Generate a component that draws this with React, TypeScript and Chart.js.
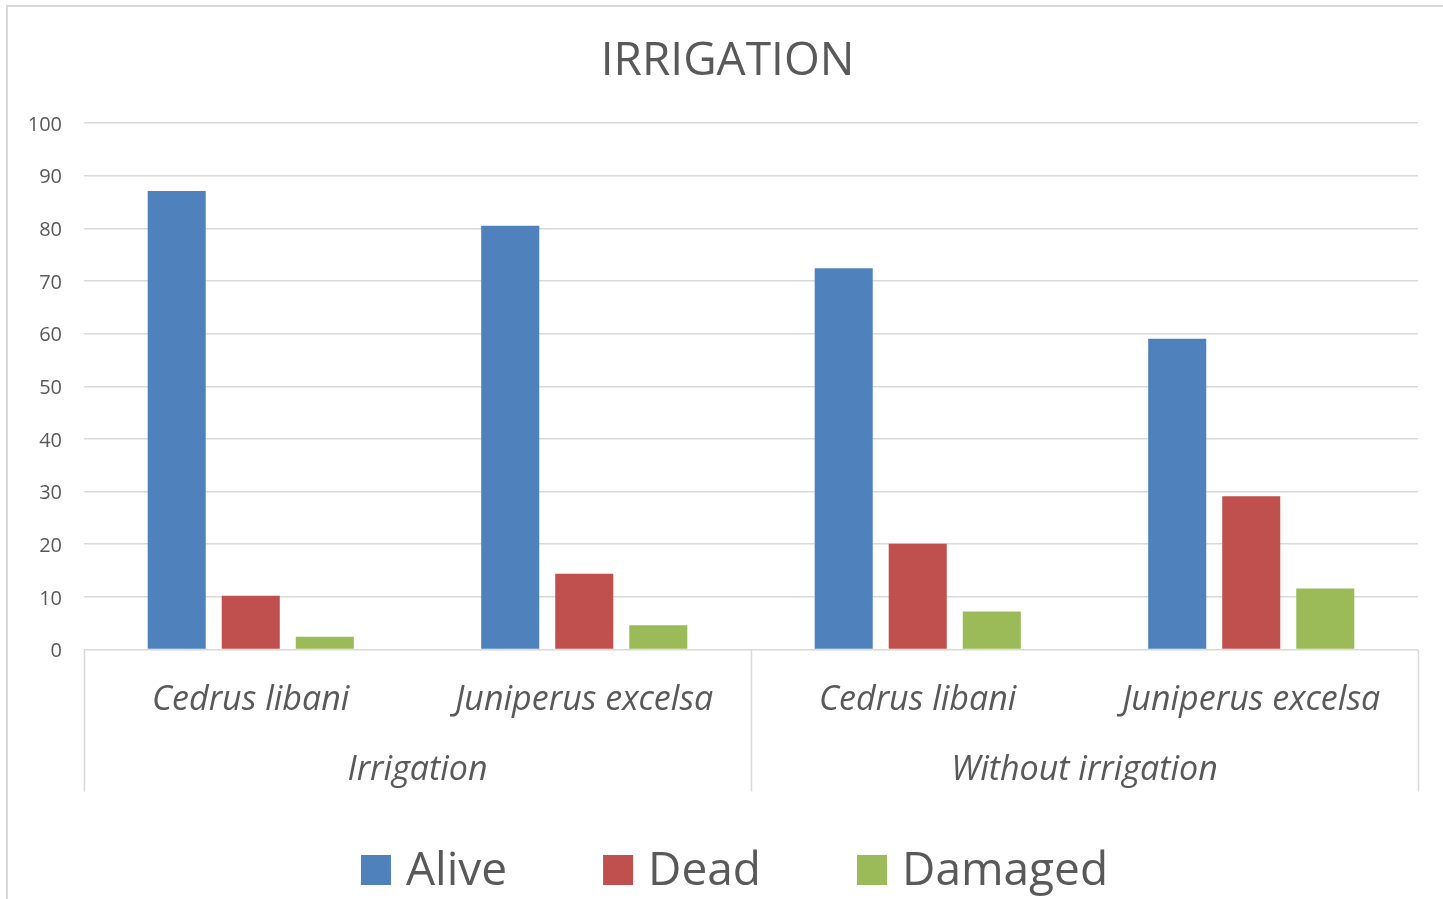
import React, { useEffect, useRef } from "react";
import { Chart, registerables } from "chart.js";

Chart.register(...registerables);

const titleText = "IRRIGATION";
const species = ["Cedrus libani", "Juniperus excelsa", "Cedrus libani", "Juniperus excelsa"];
const groups = ["Irrigation", "Without irrigation"];
const groupSize = 2;
const alive = [87.1, 80.5, 72.4, 59.0];
const dead = [10.2, 14.4, 20.1, 29.1];
const damaged = [2.4, 4.6, 7.2, 11.6];
const seriesNames = ["Alive", "Dead", "Damaged"];
const seriesColors = ["#4F81BD", "#C0504D", "#9BBB59"];
const yTicks = { min: 0, max: 100, step: 10 };

const TEXT = "#595959";
const GRID = "#D9D9D9";
const FONT = "'Open Sans', sans-serif";

const decorPlugin = {
  id: "decor",
  beforeDraw(chart: any) {
    const { ctx, width, height } = chart;
    ctx.save();
    ctx.fillStyle = "#ffffff";
    ctx.fillRect(0, 0, width, height);
    ctx.strokeStyle = GRID;
    ctx.lineWidth = 2;
    ctx.beginPath();
    ctx.moveTo(7, height);
    ctx.lineTo(7, 6);
    ctx.lineTo(width, 6);
    ctx.stroke();
    ctx.restore();
  },
  afterDraw(chart: any) {
    const { ctx, chartArea } = chart;
    const xs = chart.scales.x;
    const n = species.length;
    const catW = (chartArea.right - chartArea.left) / n;
    const yTop = chartArea.bottom;
    const yBot = chartArea.bottom + 142;
    ctx.save();
    // title
    ctx.fillStyle = TEXT;
    ctx.font = `46px ${FONT}`;
    ctx.textAlign = "center";
    ctx.textBaseline = "alphabetic";
    ctx.fillText(titleText, (7 + chart.width + 5) / 2, 75);
    // separators
    ctx.strokeStyle = GRID;
    ctx.lineWidth = 1.5;
    const ng = Math.ceil(n / groupSize);
    for (let g = 0; g <= ng; g++) {
      const idx = Math.min(g * groupSize, n);
      const xp = idx < n ? xs.getPixelForValue(idx) - catW / 2 : xs.getPixelForValue(n - 1) + catW / 2;
      ctx.beginPath();
      ctx.moveTo(Math.round(xp) + 0.5, yTop);
      ctx.lineTo(Math.round(xp) + 0.5, yBot);
      ctx.stroke();
    }
    // group labels
    ctx.fillStyle = TEXT;
    ctx.font = `italic 34px ${FONT}`;
    ctx.textAlign = "center";
    groups.forEach((g, gi) => {
      const a = xs.getPixelForValue(gi * groupSize) - catW / 2;
      const b = xs.getPixelForValue(gi * groupSize + groupSize - 1) + catW / 2;
      ctx.fillText(g, (a + b) / 2, 780);
    });
    // legend
    ctx.font = `46px ${FONT}`;
    ctx.textAlign = "left";
    const box = 30;
    const gap = 15;
    const spacing = 96;
    const widths = seriesNames.map((s) => ctx.measureText(s).width);
    const total = widths.reduce((s, w) => s + box + gap + w, 0) + spacing * (seriesNames.length - 1);
    let x = chart.width / 2 + 13 - total / 2;
    const base = 885;
    seriesNames.forEach((s, i) => {
      ctx.fillStyle = seriesColors[i];
      ctx.fillRect(x, base - box, box, box);
      ctx.fillStyle = TEXT;
      ctx.fillText(s, x + box + gap, base);
      x += box + gap + widths[i] + spacing;
    });
    ctx.restore();
  },
};

export default function App() {
  const ref = useRef<HTMLCanvasElement | null>(null);
  useEffect(() => {
    if (!ref.current) return;
    const seriesData = [alive, dead, damaged];
    const chart = new Chart(ref.current, {
      type: "bar",
      data: {
        labels: species,
        datasets: seriesNames.map((name, i) => ({
          label: name,
          data: seriesData[i],
          backgroundColor: seriesColors[i],
          borderWidth: 0,
          categoryPercentage: 0.666,
          barPercentage: 0.784,
        })),
      },
      options: {
        responsive: false,
        animation: false,
        devicePixelRatio: 1,
        layout: { padding: { left: 0, right: 25, top: 123, bottom: 0 } },
        plugins: {
          legend: { display: false },
          tooltip: { enabled: false },
          title: { display: false },
        },
        scales: {
          x: {
            grid: { display: false, drawTicks: false },
            border: { display: false },
            ticks: {
              color: TEXT,
              font: { family: FONT, size: 34, style: "italic", lineHeight: 1.2 },
              padding: 30,
              maxRotation: 0,
              autoSkip: false,
            },
            afterFit: (s: any) => {
              s.height = 249.5;
            },
          },
          y: {
            min: yTicks.min,
            max: yTicks.max,
            grid: { color: GRID, lineWidth: 1.5, drawTicks: false },
            border: { display: false },
            ticks: {
              stepSize: yTicks.step,
              color: TEXT,
              font: { family: FONT, size: 20, lineHeight: 1.2 },
              padding: 22,
              labelOffset: 2,
            },
            afterFit: (s: any) => {
              s.width = 84;
            },
          },
        },
      },
      plugins: [decorPlugin],
    });
    return () => chart.destroy();
  }, []);
  return (
    <div style={{ position: "fixed", left: 0, top: 0, width: 1443, height: 899, background: "#fff" }}>
      <canvas ref={ref} width={1443} height={899} style={{ width: 1443, height: 899, display: "block" }} />
    </div>
  );
}
